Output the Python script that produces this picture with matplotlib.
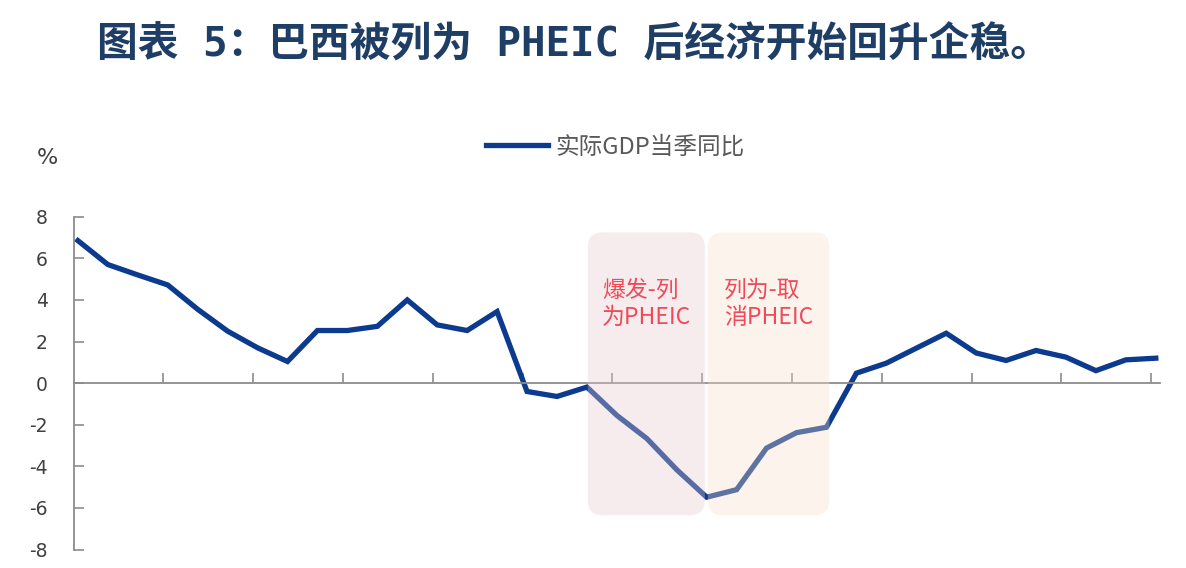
import matplotlib
matplotlib.use("Agg")
import matplotlib.pyplot as plt
import numpy as np
from matplotlib.patches import FancyBboxPatch

gdp_yoy = [6.85, 5.7, 5.2, 4.72, 3.55, 2.5, 1.7, 1.04, 2.53, 2.53,
           2.73, 4.0, 2.8, 2.53, 3.44, -0.4, -0.64, -0.19, -1.55, -2.66,
           -4.16, -5.48, -5.12, -3.12, -2.38, -2.12, 0.48, 0.96, 1.68, 2.4,
           1.45, 1.09, 1.57, 1.25, 0.6, 1.12, 1.2]
quarters = np.arange(len(gdp_yoy))

# shaded periods (in quarter index)
period_start = [17.03, 21.04]
period_end = [20.94, 25.1]
period_labels = ["爆发-列\n为PHEIC", "列为-取\n消PHEIC"]
period_colors = ["#E8C9CE", "#F9E0C9"]

yticks = [8, 6, 4, 2, 0, -2, -4, -6, -8]
ytick_labels = ["8", "6", "4", "2", "0", "-2", "-4", "-6", "-8"]

LINE = "#0B3A8E"
CJK = ["Noto Sans CJK SC", "DejaVu Sans"]

fig = plt.figure(figsize=(11.86, 5.68), dpi=100)
ax = fig.add_axes([74 / 1186, 1 - 549.6 / 568, (1160 - 74) / 1186, (549.6 - 216.7) / 568])

ax.plot(quarters, gdp_yoy, color=LINE, linewidth=3.8, solid_joinstyle="miter",
        zorder=2, label="实际GDP当季同比")

# rounded boxes, corrected for the different x / y scales
x_px = (1160 - 74) / (36.14 + 0.13)
y_px = (549.6 - 216.7) / 16
for x0, x1, c, lab in zip(period_start, period_end, period_colors, period_labels):
    box = FancyBboxPatch((x0, -6.35), x1 - x0, 7.25 + 6.35,
                         boxstyle="round,pad=0,rounding_size=0.5",
                         mutation_aspect=x_px / y_px,
                         facecolor=c, edgecolor="none", alpha=0.35, zorder=3)
    ax.add_patch(box)
    ax.text((x0 + x1) / 2, 3.8, lab, color="#EF4A5A", fontsize=16.5, family=CJK,
            ha="center", va="center", multialignment="left",
            linespacing=1.25, zorder=4)

ax.set_xlim(-0.13, 36.14)
ax.set_ylim(-8, 8)
ax.set_yticks(yticks)
ax.set_yticklabels(ytick_labels)
ax.set_xticks(np.arange(2.85, 36.2, 3))
ax.set_xticklabels([])

for s in ["top", "right"]:
    ax.spines[s].set_visible(False)
ax.spines["bottom"].set_position(("data", 0))
for s in ["bottom", "left"]:
    ax.spines[s].set_color("#8C8C8C")
    ax.spines[s].set_linewidth(1.3)
ax.tick_params(axis="both", direction="in", length=7, width=1.2, color="#8C8C8C")
ax.tick_params(axis="y", labelsize=13.5, labelcolor="#404040", pad=19)

fig.text(47 / 1186, 1 - 158 / 568, "%", fontsize=16, color="#404040",
         ha="center", va="center")

leg = fig.legend(loc="center", bbox_to_anchor=(615 / 1186, 1 - 147 / 568),
                 frameon=False, handlelength=2.65, handletextpad=0.28,
                 prop={"family": CJK, "size": 17})
for t in leg.get_texts():
    t.set_color("#595959")

fig.text(97 / 1186, 1 - 45 / 568, "图表 5：巴西被列为 PHEIC 后经济开始回升企稳。",
         fontsize=29.3, fontweight="bold", color="#1F3E66",
         family=["DejaVu Sans Mono", "Noto Sans CJK SC"], ha="left", va="center")

fig.savefig("out.png", dpi=100)
